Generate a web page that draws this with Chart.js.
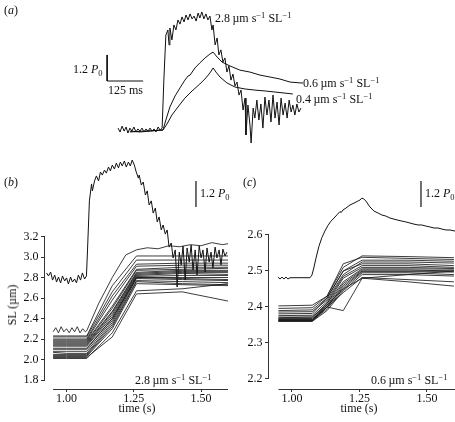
<!DOCTYPE html>
<html><head><meta charset="utf-8">
<script src="https://cdn.jsdelivr.net/npm/chart.js@4.4.1/dist/chart.umd.min.js"></script>
<style>
html,body{margin:0;padding:0;background:#fff;}
body{width:455px;height:422px;position:relative;overflow:hidden;font-family:"Liberation Serif","Times New Roman",serif;color:#111;}
canvas{position:absolute;}
.t{position:absolute;font-size:12px;line-height:12px;white-space:nowrap;transform:translateY(-50%);}
.c{transform:translate(-50%,-50%);}
.sp{font-size:8.5px;position:relative;top:-4px;}
.sb{font-size:8.5px;position:relative;top:3px;}
.rot{transform:translate(-50%,-50%) rotate(-90deg);}
</style></head><body>
<canvas id="ca" width="455" height="145" style="left:0;top:0"></canvas>
<canvas id="cb" width="228" height="292" style="left:0;top:130px"></canvas>
<canvas id="cc" width="230" height="292" style="left:225px;top:130px"></canvas>

<div class="t" style="left:4px;top:10px">(<i>a</i>)</div>
<div class="t" style="left:73px;top:69px">1.2 <i>P</i><span class="sb">0</span></div>
<div class="t" style="left:108px;top:90px">125 ms</div>
<div class="t" style="left:215px;top:18px">2.8&thinsp;µm s<span class="sp">−1</span> SL<span class="sp">−1</span></div>
<div class="t" style="left:303px;top:83px">0.6&thinsp;µm s<span class="sp">−1</span> SL<span class="sp">−1</span></div>
<div class="t" style="left:296px;top:99px">0.4&thinsp;µm s<span class="sp">−1</span> SL<span class="sp">−1</span></div>

<div class="t" style="left:4px;top:182px">(<i>b</i>)</div>
<div class="t" style="left:200px;top:193px">1.2 <i>P</i><span class="sb">0</span></div>
<div class="t" style="left:135px;top:380px">2.8&thinsp;µm s<span class="sp">−1</span> SL<span class="sp">−1</span></div>
<div class="t rot" style="left:12px;top:305px">SL (µm)</div>
<div class="t c" style="left:137px;top:408px">time (s)</div>

<div class="t" style="left:243px;top:182px">(<i>c</i>)</div>
<div class="t" style="left:425px;top:193px">1.2 <i>P</i><span class="sb">0</span></div>
<div class="t" style="left:371px;top:380px">0.6&thinsp;µm s<span class="sp">−1</span> SL<span class="sp">−1</span></div>
<div class="t c" style="left:359px;top:408px">time (s)</div>

<script>
// ---------- DATA ----------
// tick values
const timeTicks = [1.00, 1.25, 1.50];
const bTicksY = [1.8, 2.0, 2.2, 2.4, 2.6, 2.8, 3.0, 3.2];
const cTicksY = [2.2, 2.3, 2.4, 2.5, 2.6];

// panel (a): force (P0) vs time (s) for three stretch velocities
const forceA28 = [[0.919,0.09],[0.926,-0.09],[0.933,0.18],[0.940,-0.05],[0.947,0.14],[0.953,-0.14],[0.960,0.09],[0.967,-0.05],[0.974,0.14],[0.981,-0.09],[0.988,0.05],[0.995,-0.05],[1.002,0.09],[1.009,-0.09],[1.016,0.05],[1.023,-0.05],[1.030,0.09],[1.037,-0.05],[1.044,0.05],[1.051,-0.09],[1.058,0.14],[1.065,0],[1.072,0.09],
[1.078,2.30],[1.085,4.38],[1.092,4.61],[1.096,3.92],[1.099,4.70],[1.106,4.15],[1.113,4.84],[1.120,4.61],[1.127,5.07],[1.134,4.88],[1.141,5.21],[1.148,4.98],[1.155,5.30],[1.162,5.07],[1.169,5.35],[1.176,5.12],[1.183,5.25],[1.190,5.02],[1.197,5.39],[1.203,5.16],[1.210,5.44],[1.217,5.12],[1.224,5.35],[1.231,5.07],[1.238,5.25],
[1.245,4.61],[1.249,4.84],[1.256,3.92],[1.263,4.24],[1.269,3.46],[1.276,3.69],[1.283,3.13],[1.290,3.32],[1.297,2.67],[1.304,2.95],[1.311,2.30],[1.318,2.58],[1.325,2.03],[1.332,2.21],[1.339,1.61],[1.346,1.84],[1.353,0.92],[1.360,1.47],[1.363,-0.23],[1.370,1.15],[1.377,0.23],[1.381,-0.60],[1.388,1.01],[1.394,0.55],[1.401,1.38],[1.408,0.46],[1.415,1.20],[1.422,0.09],[1.429,1.52],[1.436,0.69],[1.443,1.38],[1.450,0.37],[1.457,1.61],[1.464,0.55],[1.471,1.29],[1.478,0.23],[1.485,1.47],[1.492,0.69],[1.499,1.24],[1.506,0.55],[1.513,1.38],[1.520,0.83],[1.526,1.15],[1.533,0.69],[1.540,1.20],[1.547,0.83],[1.554,1.01]];
const forceA06 = [[0.960,-0.05],[0.995,-0.09],[1.030,-0.05],[1.075,0],[1.085,0.46],[1.099,1.06],[1.117,1.57],[1.134,1.94],[1.151,2.30],[1.162,2.49],[1.169,2.53],[1.186,2.86],[1.203,3.09],[1.221,3.32],[1.238,3.50],[1.249,3.59],[1.263,3.36],[1.280,3.13],[1.308,2.95],[1.342,2.76],[1.377,2.67],[1.412,2.53],[1.447,2.44],[1.481,2.35],[1.516,2.21],[1.551,2.17],[1.561,2.17]];
const forceA04 = [[0.960,-0.09],[1.012,-0.05],[1.075,0],[1.089,0.28],[1.106,0.69],[1.127,1.06],[1.151,1.47],[1.176,1.80],[1.203,2.12],[1.224,2.40],[1.238,2.63],[1.249,2.86],[1.259,2.67],[1.273,2.44],[1.297,2.17],[1.325,1.98],[1.360,1.89],[1.394,1.84],[1.429,1.80],[1.464,1.75],[1.499,1.70],[1.526,1.66]];
const scaleA = {t:0.881, F:2.258, dt:0.125, dF:1.2};

// panel (b): force at 2.8 um/s/SL (P0) and sarcomere lengths (um)
const forceB28 = [[0.926,0.22],[0.933,0.08],[0.941,0.26],[0.948,-0.11],[0.956,0.12],[0.963,-0.20],[0.970,0.03],[0.978,-0.24],[0.985,0.08],[0.993,-0.15],[1.000,-0.01],[1.007,-0.29],[1.015,0.03],[1.022,-0.20],[1.030,-0.06],[1.037,-0.24],[1.044,0.12],[1.052,-0.11],[1.059,0.22],[1.067,-0.06],[1.074,0.08],
[1.078,1.28],[1.085,3.54],[1.093,4.32],[1.096,4.00],[1.104,4.46],[1.111,4.69],[1.119,4.46],[1.126,4.87],[1.133,4.73],[1.141,4.96],[1.148,4.82],[1.156,5.10],[1.163,4.92],[1.170,5.19],[1.178,5.01],[1.185,5.28],[1.193,5.06],[1.200,5.33],[1.207,5.15],[1.215,5.38],[1.222,5.10],[1.230,5.33],[1.237,5.15],[1.244,5.42],[1.252,5.19],
[1.259,4.87],[1.267,4.59],[1.270,4.73],[1.278,4.27],[1.285,4.41],[1.293,3.81],[1.300,4.00],[1.307,3.35],[1.315,3.54],[1.322,2.98],[1.330,3.21],[1.337,2.57],[1.344,2.80],[1.352,2.20],[1.359,2.43],[1.367,2.01],[1.374,2.20],[1.381,1.41],[1.389,1.60],[1.396,0.91],[1.404,1.28],[1.411,-0.43],[1.419,1.18],[1.426,0.59],[1.433,1.46],[1.441,-0.11],[1.448,1.37],[1.456,0.72],[1.463,1.51],[1.470,0.35],[1.478,1.28],[1.485,0.13],[1.493,1.46],[1.500,0.91],[1.507,1.28],[1.515,0.26],[1.522,1.37],[1.530,0.72],[1.537,1.18],[1.544,0.45],[1.552,1.41],[1.559,0.91],[1.567,1.28],[1.574,0.59],[1.581,1.32],[1.589,1.00],[1.596,1.18]];
const slB_top = [[0.95,2.27],[0.96,2.31],[0.97,2.26],[0.98,2.32],[0.99,2.27],[1.00,2.30],[1.01,2.26],[1.02,2.31],[1.03,2.27],[1.04,2.32],[1.05,2.26],[1.06,2.30],[1.07,2.27],[1.075,2.28],[1.12,2.55],[1.17,2.80],[1.22,3.02],[1.26,3.07],[1.30,3.09],[1.34,3.08],[1.38,3.11],[1.42,3.10],[1.46,3.12],[1.50,3.11],[1.54,3.14],[1.58,3.12],[1.60,3.13]];
const slB_t = [0.95, 1.0, 1.075, 1.17, 1.26, 1.43, 1.6];
const slB = [
 [2.23,2.23,2.23,2.72,3.01,3.01,3.01],
 [2.22,2.22,2.22,2.66,2.97,2.97,2.97],
 [2.20,2.20,2.20,2.62,2.93,2.94,2.94],
 [2.19,2.19,2.19,2.58,2.91,2.92,2.92],
 [2.18,2.18,2.18,2.52,2.88,2.90,2.90],
 [2.17,2.17,2.17,2.50,2.87,2.88,2.89],
 [2.16,2.16,2.16,2.47,2.85,2.87,2.87],
 [2.15,2.15,2.15,2.46,2.84,2.86,2.86],
 [2.14,2.14,2.14,2.44,2.83,2.85,2.85],
 [2.13,2.13,2.13,2.42,2.82,2.84,2.83],
 [2.11,2.11,2.11,2.40,2.81,2.82,2.82],
 [2.10,2.10,2.10,2.40,2.80,2.80,2.80],
 [2.08,2.08,2.08,2.38,2.80,2.79,2.78],
 [2.07,2.06,2.06,2.36,2.79,2.78,2.77],
 [2.05,2.05,2.05,2.34,2.77,2.76,2.75],
 [2.04,2.04,2.04,2.32,2.76,2.74,2.73],
 [2.03,2.03,2.03,2.30,2.74,2.73,2.72],
 [2.01,2.01,2.01,2.26,2.67,2.69,2.74],
 [2.02,2.02,2.02,2.22,2.64,2.66,2.57]
];
const scaleB = {t:1.481, F:3.26, dF:1.2};

// panel (c): force at 0.6 um/s/SL (P0) and sarcomere lengths (um)
const forceC06 = [[0.948,0.03],[0.956,-0.06],[0.963,0.03],[0.970,-0.06],[0.978,0.03],[0.985,-0.06],[0.993,0],[1.067,0],[1.074,0.12],[1.081,0.45],[1.089,0.90],[1.100,1.45],[1.111,1.85],[1.122,2.15],[1.133,2.40],[1.144,2.60],[1.156,2.75],[1.167,2.90],[1.178,3.05],[1.182,3.00],[1.189,3.12],[1.200,3.21],[1.215,3.35],[1.230,3.44],[1.244,3.53],[1.252,3.58],[1.259,3.67],[1.266,3.63],[1.274,3.53],[1.289,3.26],[1.304,3.07],[1.319,2.98],[1.333,2.89],[1.348,2.84],[1.363,2.75],[1.378,2.70],[1.393,2.65],[1.407,2.61],[1.422,2.57],[1.437,2.52],[1.452,2.47],[1.467,2.43],[1.481,2.43],[1.496,2.38],[1.511,2.34],[1.526,2.29],[1.541,2.29],[1.556,2.24],[1.570,2.20],[1.585,2.20],[1.604,2.15]];
const slC_t = [0.95, 1.075, 1.13, 1.19, 1.26, 1.43, 1.6];
const slC = [
 [2.403,2.405,2.43,2.51,2.542,2.54,2.537],
 [2.396,2.398,2.43,2.52,2.538,2.535,2.532],
 [2.390,2.392,2.425,2.50,2.530,2.530,2.527],
 [2.386,2.387,2.42,2.49,2.525,2.525,2.522],
 [2.381,2.382,2.425,2.50,2.520,2.520,2.515],
 [2.376,2.377,2.415,2.485,2.515,2.515,2.510],
 [2.372,2.372,2.41,2.48,2.510,2.510,2.507],
 [2.368,2.368,2.41,2.47,2.506,2.506,2.505],
 [2.365,2.365,2.405,2.465,2.503,2.503,2.500],
 [2.363,2.363,2.40,2.46,2.500,2.500,2.500],
 [2.362,2.362,2.40,2.455,2.498,2.498,2.497],
 [2.361,2.361,2.395,2.45,2.495,2.495,2.490],
 [2.360,2.360,2.39,2.445,2.490,2.490,2.486],
 [2.365,2.366,2.40,2.44,2.482,2.476,2.470],
 [2.370,2.372,2.405,2.45,2.480,2.470,2.458],
 [2.362,2.362,2.40,2.39,2.480,2.490,2.500]
];
const scaleC = {t:1.478, F:3.26, dF:1.2};

// ---------- CHARTS ----------
const FONT = {family:'"Liberation Serif", serif', size:12};
Chart.defaults.font.family = FONT.family;
const pts = a => a.map(p => ({x:p[0], y:p[1]}));
const zipT = (ts, vs) => ts.map((t,i) => ({x:t, y:vs[i]}));
const ds = (data, w, col, axis) => ({data, borderColor:col, borderWidth:w, pointRadius:0, fill:false, tension:0, yAxisID:axis||'y'});

const axisLines = {
  id:'axisLines',
  afterDraw(chart, args, o){
    const {ctx, chartArea:ca} = chart, x = chart.scales.x, y = chart.scales.y;
    ctx.save(); ctx.strokeStyle = '#333'; ctx.lineWidth = 1; ctx.beginPath();
    const xl = Math.round(ca.left) - 0.5;
    ctx.moveTo(xl, y.getPixelForValue(o.yFrom)); ctx.lineTo(xl, y.getPixelForValue(o.yTo));
    const yb = Math.round(ca.bottom) + 0.5;
    ctx.moveTo(x.getPixelForValue(o.xFrom), yb); ctx.lineTo(ca.right, yb);
    ctx.stroke(); ctx.restore();
  }
};

const common = {responsive:false, animation:false, events:[], plugins:{legend:{display:false}, tooltip:{enabled:false}}};

new Chart(document.getElementById('ca'), {
  type:'line',
  data:{datasets:[
    ds(pts(forceA04),1,'#111'), ds(pts(forceA06),1,'#111'), ds(pts(forceA28),1,'#111'),
    ds(pts([[scaleA.t, scaleA.F+scaleA.dF],[scaleA.t, scaleA.F],[scaleA.t+scaleA.dt, scaleA.F]]),1,'#111')
  ]},
  options:Object.assign({}, common, {layout:{padding:0},
    scales:{x:{type:'linear',display:false,min:0.509,max:2.089}, y:{type:'linear',display:false,min:-0.69,max:5.99}}})
});

function slChart(id, opt){
  const datasets = [];
  opt.sl.forEach(tr => datasets.push(ds(tr, 0.85, '#1a1a1a')));
  datasets.push(ds(pts(opt.force), 1, '#111', 'y2'));
  datasets.push(ds(pts([[opt.bar.t, opt.bar.F],[opt.bar.t, opt.bar.F+opt.bar.dF]]), 1.2, '#111', 'y2'));
  new Chart(document.getElementById(id), {
    type:'line',
    data:{datasets},
    plugins:[axisLines],
    options:Object.assign({}, common, {
      layout:{padding:{top:10,left:0,right:0,bottom:0}},
      plugins:{legend:{display:false}, tooltip:{enabled:false}, axisLines:{yFrom:opt.yTicks[0], yTo:opt.yTicks[opt.yTicks.length-1], xFrom:0.95}},
      scales:{
        x:{type:'linear', min:opt.xMin, max:opt.xMax,
           afterBuildTicks:s => { s.ticks = timeTicks.map(v => ({value:v})); },
           afterFit:s => { s.height = 33; },
           ticks:{callback:v => Number(v).toFixed(2), font:FONT, color:'#111', padding:0, maxRotation:0, autoSkip:false},
           grid:{drawOnChartArea:false, drawTicks:true, tickLength:3, color:'#333'},
           border:{display:false}},
        y:{type:'linear', position:'left', min:opt.yMin, max:opt.yMax,
           afterBuildTicks:s => { s.ticks = opt.yTicks.map(v => ({value:v})); },
           afterFit:s => { s.width = opt.yw; },
           ticks:{callback:v => Number(v).toFixed(1), font:FONT, color:'#111', padding:2.5, autoSkip:false},
           grid:{drawOnChartArea:false, drawTicks:true, tickLength:4, color:'#333'},
           border:{display:false}},
        y2:{type:'linear', display:false, min:-5.129, max:6.346}
      }
    })
  });
}

slChart('cb', {
  sl:[pts(slB_top)].concat(slB.map(v => zipT(slB_t, v))),
  force:forceB28, bar:scaleB, yTicks:bTicksY, yMin:1.7122, yMax:4.1415, xMin:0.92, xMax:1.6, yw:45
});
slChart('cc', {
  sl:slC.map(v => zipT(slC_t, v)),
  force:forceC06, bar:scaleC, yTicks:cTicksY, yMin:2.1722, yMax:2.8639, xMin:0.915, xMax:1.604, yw:44
});
</script>
</body></html>
